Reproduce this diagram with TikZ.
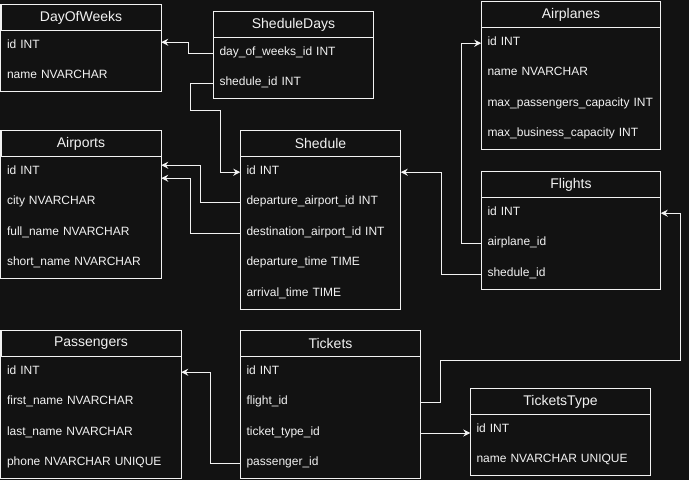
\documentclass[tikz,border=0pt]{standalone}
\usepackage{fontspec}
\setmainfont{Liberation Sans}
\usepackage{tikz}
\usetikzlibrary{positioning,calc,arrows.meta}
\definecolor{bg}{HTML}{121212}
\definecolor{fg}{HTML}{F2F2F2}

\begin{document}
\begin{tikzpicture}[x=1pt, y=-1pt,
    hdr/.style={draw=fg, line width=1pt, minimum width=#1, minimum height=26pt, inner sep=0pt, anchor=north west, text=fg, font=\fontsize{14}{16}\selectfont},
    fld/.style={minimum height=30pt, text width=#1, text height=8.6pt, text depth=4pt, inner xsep=6pt, inner ysep=0pt, align=left, text=fg, font=\fontsize{12}{14}\selectfont},
    box/.style={draw=fg, line width=1pt},
    fk/.style={draw=fg, line width=1pt, -{Stealth[length=7pt,width=7pt]}}]

        % background
        \fill[bg] (0,0) rectangle (689,480);
        \useasboundingbox (0,0) rectangle (689,480);

        %DayOfWeeks
        \node[hdr=160pt] (dow) at (0.5,4) {DayOfWeeks};
        \node[fld=148pt, below=0pt of dow] (dow-id) {id INT};
        \node[fld=148pt, below=0pt of dow-id] (dow-nm) {name NVARCHAR};
        \draw[box] (dow.north west) rectangle (dow-nm.south east);

        %SheduleDays
        \node[hdr=160pt] (sd) at (213,11) {SheduleDays};
        \node[fld=148pt, below=0pt of sd] (sd-dow) {day\_of\_weeks\_id INT};
        \node[fld=148pt, below=0pt of sd-dow] (sd-shd) {shedule\_id INT};
        \draw[box] (sd.north west) rectangle (sd-shd.south east);

        %Airports
        \node[hdr=160pt] (aps) at (0.5,130) {Airports};
        \node[fld=148pt, below=0pt of aps] (aps-id) {id INT};
        \node[fld=148pt, below=0pt of aps-id] (aps-ct) {city NVARCHAR};
        \node[fld=148pt, below=0pt of aps-ct] (aps-fn) {full\_name NVARCHAR};
        \node[fld=148pt, below=0pt of aps-fn] (aps-sn) {short\_name NVARCHAR};
        \draw[box] (aps.north west) rectangle (aps-sn.south east);

        %Shedule
        \node[hdr=160pt] (shd) at (240,130) {Shedule};
        \node[fld=148pt, below=0pt of shd] (shd-id) {id INT};
        \node[fld=148pt, below=0pt of shd-id] (shd-dep) {departure\_airport\_id INT};
        \node[fld=148pt, below=0pt of shd-dep] (shd-dst) {destination\_airport\_id INT};
        \node[fld=148pt, below=0pt of shd-dst] (shd-dt) {departure\_time TIME};
        \node[fld=148pt, below=0pt of shd-dt] (shd-at) {arrival\_time TIME};
        \draw[box] (shd.north west) rectangle (shd-at.south east);

        %Airplanes
        \node[hdr=179pt] (apl) at (481,1) {Airplanes};
        \node[fld=167pt, below=0pt of apl] (apl-id) {id INT};
        \node[fld=167pt, below=0pt of apl-id] (apl-nm) {name NVARCHAR};
        \node[fld=167pt, below=0pt of apl-nm] (apl-mp) {max\_passengers\_capacity INT};
        \node[fld=167pt, below=0pt of apl-mp] (apl-mb) {max\_business\_capacity INT};
        \draw[box] (apl.north west) rectangle (apl-mb.south east);

        %Flights
        \node[hdr=179pt] (fl) at (481,171) {Flights};
        \node[fld=167pt, below=0pt of fl] (fl-id) {id INT};
        \node[fld=167pt, below=0pt of fl-id] (fl-pln) {airplane\_id};
        \node[fld=167pt, below=0pt of fl-pln] (fl-shd) {shedule\_id};
        \draw[box] (fl.north west) rectangle (fl-shd.south east);

        %Passengers
        \node[hdr=180pt] (ps) at (0.5,330) {Passengers};
        \node[fld=168pt, below=0pt of ps] (ps-id) {id INT};
        \node[fld=168pt, below=0pt of ps-id] (ps-fn) {first\_name NVARCHAR};
        \node[fld=168pt, below=0pt of ps-fn] (ps-ln) {last\_name NVARCHAR};
        \node[fld=168pt, below=0pt of ps-ln] (ps-ph) {phone NVARCHAR UNIQUE};
        \draw[box] (ps.north west) rectangle (ps-ph.south east);

        %Tickets
        \node[hdr=180pt] (tk) at (240,330) {Tickets};
        \node[fld=168pt, below=0pt of tk] (tk-id) {id INT};
        \node[fld=168pt, below=0pt of tk-id] (tk-fl) {flight\_id};
        \node[fld=168pt, below=0pt of tk-fl] (tk-tt) {ticket\_type\_id};
        \node[fld=168pt, below=0pt of tk-tt] (tk-ps) {passenger\_id};
        \draw[box] (tk.north west) rectangle (tk-ps.south east);

        %TicketsType
        \node[hdr=180pt] (tt) at (470,388) {TicketsType};
        \node[fld=168pt, below=0pt of tt] (tt-id) {id INT};
        \node[fld=168pt, below=0pt of tt-id] (tt-nm) {name NVARCHAR UNIQUE};
        \draw[box] (tt.north west) rectangle (tt-nm.south east);

        % bends
        \coordinate (k1) at (190,110);
        \coordinate (k2) at (680,360);

        % Draw the foreign keys
        \draw[fk] (sd-dow.west) -- ++(-25,0) |- ([yshift=4pt]dow-id.east);
        \draw[fk] (sd-shd.west) -| (k1) -| ([xshift=-20pt]shd-id.west) -- (shd-id.west);
        \draw[fk] (shd-dep.west) -- ++(-40,0) |- ([yshift=7pt]aps-id.east);
        \draw[fk] (shd-dst.west) -- ++(-50,0) |- ([yshift=-6pt]aps-id.east);
        \draw[fk] (fl-pln.west) -- ++(-20,0) |- (apl-id.west);
        \draw[fk] (fl-shd.west) -- ++(-40,0) |- (shd-id.east);
        \draw[fk] (tk-fl.east) -- ++(20,0) |- (k2) |- (fl-id.east);
        \draw[fk] (tk-tt.east) -- (tk-tt.east -| tt-id.west);
        \draw[fk] (tk-ps.west) -- ++(-30,0) |- (ps-id.east);

    \end{tikzpicture}
\end{document}
